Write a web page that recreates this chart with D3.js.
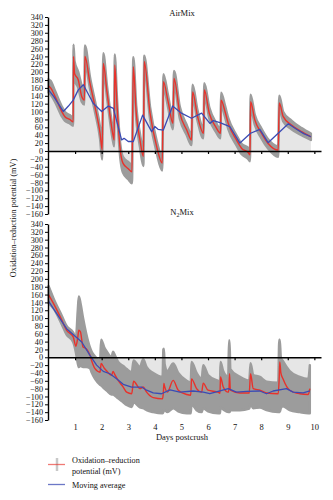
<!DOCTYPE html>
<html>
<head>
<meta charset="utf-8">
<script src="https://cdn.jsdelivr.net/npm/d3@7"></script>
<style>
  body { margin: 0; background: #fff; }
  svg { display: block; }
  text { font-family: "Liberation Serif", "DejaVu Serif", serif; fill: #111; }
</style>
</head>
<body>
<svg id="chart" width="333" height="500"></svg>
<script>
// ---- AirMix: mean ORP with replicate range ----
const airDays = [0, 0.08, 0.25, 0.5, 0.62, 0.8, 0.93, 0.94, 0.98, 1.12, 1.25, 1.35, 1.37, 1.56, 1.75, 1.94, 2.02, 2.06, 2.2, 2.44, 2.47, 2.49, 2.58, 2.7, 2.8, 3.0, 3.14, 3.19, 3.3, 3.44, 3.57, 3.6, 3.82, 4.07, 4.28, 4.32, 4.5, 4.68, 4.72, 4.94, 5.2, 5.38, 5.42, 5.6, 5.83, 5.86, 6.05, 6.3, 6.47, 6.49, 6.64, 6.76, 7.07, 7.26, 7.51, 7.58, 7.6, 7.76, 8.01, 8.26, 8.64, 8.68, 8.83, 9.14, 9.52, 9.87];
const airOrp  = [165, 160, 138, 100, 87, 80, 74, 240, 197, 180, 138, 129, 240, 172, 112, 45, 3, 222, 150, 36, 28, 218, 112, 2, -31, -45, -53, 214, 96, 28, -14, 227, 96, 11, -31, 176, 125, 70, 184, 96, 53, 28, 150, 90, 45, 155, 95, 60, 45, 129, 100, 70, 28, 7, -4, -10, 125, 79, 45, 19, 2, 122, 87, 66, 49, 36];
const airHigh = [182, 178, 152, 113, 99, 91, 85, 270, 228, 200, 165, 145, 268, 188, 126, 60, 15, 248, 166, 50, 42, 245, 130, 18, -15, -28, -35, 238, 115, 44, 2, 242, 112, 26, -15, 195, 140, 85, 203, 112, 66, 42, 168, 105, 58, 172, 110, 72, 56, 148, 115, 84, 40, 18, 8, 2, 143, 92, 57, 30, 12, 140, 99, 77, 58, 44];
const airLow  = [148, 143, 124, 88, 76, 70, 64, 200, 180, 160, 125, 118, 220, 158, 98, 30, -22, 205, 135, 20, 12, 200, 95, -18, -55, -72, -82, 195, 80, 10, -38, 210, 80, -5, -50, 160, 110, 55, 168, 82, 40, 15, 135, 78, 32, 140, 82, 48, 32, 115, 86, 56, 14, -8, -20, -26, 110, 66, 32, 6, -15, 108, 75, 55, 40, 28];
const airAvgDays = [0, 0.2, 0.56, 0.75, 0.93, 1.12, 1.31, 1.68, 2.0, 2.25, 2.44, 2.75, 2.84, 3.0, 3.19, 3.54, 3.88, 4.0, 4.12, 4.32, 4.67, 5.0, 5.38, 5.76, 6.07, 6.2, 6.45, 6.82, 7.2, 7.6, 7.95, 8.26, 9.02, 9.33, 9.6, 9.87];
const airAvg     = [155, 138, 100, 114, 129, 155, 168, 121, 100, 114, 108, 28, 32, 24, 24, 91, 49, 62, 55, 53, 114, 96, 83, 96, 70, 77, 72, 62, 20, 45, 55, 21, 69, 55, 44, 36];

// ---- N2Mix: mean ORP with replicate range ----
const n2Days = [0, 0.19, 0.5, 0.68, 0.93, 1.03, 1.1, 1.14, 1.2, 1.3, 1.42, 1.56, 1.62, 1.75, 1.94, 1.98, 2.1, 2.19, 2.37, 2.43, 2.5, 2.62, 2.81, 2.94, 3.13, 3.2, 3.44, 3.56, 3.69, 3.94, 4.29, 4.32, 4.34, 4.37, 4.47, 4.69, 4.88, 5.2, 5.35, 5.38, 5.57, 5.76, 5.82, 6.0, 6.38, 6.45, 6.47, 6.57, 6.76, 6.79, 6.81, 6.84, 7.2, 7.55, 7.6, 7.7, 7.95, 8.2, 8.64, 8.68, 8.7, 8.74, 8.82, 9.07, 9.45, 9.77, 9.83];
const n2Orp  = [160, 137, 95, 69, 52, 28, 50, 69, 65, 26, 22, 5, -8, -29, -38, -16, -28, -35, -46, -36, -45, -59, -76, -89, -93, -61, -80, -76, -89, -103, -106, -90, -67, -75, -89, -59, -84, -95, -97, -55, -80, -89, -66, -84, -89, -92, -50, -75, -89, -80, -42, -84, -91, -91, -42, -80, -84, -91, -93, -50, -12, -40, -55, -84, -93, -95, -80];
const n2High = [182, 150, 106, 80, 63, 48, 120, 155, 140, 100, 60, 25, 15, 2, -8, 45, 25, 15, 0, 14, 5, -12, -22, -30, -38, -8, -25, -5, -25, -40, -50, 20, 22, -18, -35, -16, -40, -60, -65, -12, -40, -55, -20, -45, -60, -62, -12, -35, -50, 43, 43, -30, -50, -60, -15, -45, -50, -62, -65, 45, 45, 0, -10, -35, -50, -55, -20];
const n2Low  = [138, 124, 84, 58, 38, 12, -15, -25, -22, -25, -25, -28, -38, -55, -70, -72, -80, -85, -95, -95, -98, -105, -115, -122, -127, -115, -128, -130, -135, -140, -143, -140, -135, -135, -140, -130, -138, -143, -143, -120, -135, -140, -130, -138, -143, -143, -128, -133, -140, -140, -140, -135, -135, -131, -120, -130, -128, -135, -140, -140, -140, -130, -125, -135, -140, -143, -143];
const n2AvgDays = [0, 0.68, 1.25, 1.56, 1.81, 2.06, 2.31, 2.56, 2.81, 3.13, 3.5, 3.69, 3.94, 4.25, 4.57, 4.94, 5.44, 5.82, 6.07, 6.45, 6.76, 7.07, 7.45, 7.95, 8.2, 8.45, 8.95, 9.2, 9.58, 9.83];
const n2Avg     = [143, 73, 39, 5, -20, -36, -42, -55, -69, -76, -76, -84, -91, -93, -83, -89, -86, -89, -93, -86, -80, -89, -87, -86, -93, -86, -80, -89, -91, -86];

// ---- Axes ----
const dayTicks = [1, 2, 3, 4, 5, 6, 7, 8, 9, 10];
const orpTicks = d3.range(-160, 341, 20);

const colors = { orp: "#e8322b", avg: "#3b4bb4", band: "#9c9c9c", fill: "#e6e6e6" };

const svg = d3.select("#chart");
const x = d3.scaleLinear().domain([0, 10.25]).range([48.5, 321]);
const curve = d3.curveMonotoneX;

const panels = [
  { title: "AirMix", top: 17, bottom: 214, days: airDays, orp: airOrp, hi: airHigh, lo: airLow, avgDays: airAvgDays, avg: airAvg, titleY: 16 },
  { title: "N2Mix", top: 224, bottom: 420, days: n2Days, orp: n2Orp, hi: n2High, lo: n2Low, avgDays: n2AvgDays, avg: n2Avg, titleY: 215 }
];

panels.forEach((p, pi) => {
  const y = d3.scaleLinear().domain([-160, 340]).range([p.bottom, p.top]);
  const g = svg.append("g");
  const idx = d3.range(p.days.length);

  // light fill between zero and the top of the range
  g.append("path")
    .attr("fill", colors.fill)
    .attr("d", d3.area().curve(curve).x(i => x(p.days[i])).y0(y(0)).y1(i => y(p.hi[i]))(idx));

  // replicate range (stroked so the error-bar spread reads on steep slopes too)
  g.append("path")
    .attr("fill", colors.band)
    .attr("stroke", colors.band)
    .attr("stroke-width", 2.4)
    .attr("stroke-linejoin", "round")
    .attr("d", d3.area().curve(curve).x(i => x(p.days[i])).y0(i => y(p.lo[i])).y1(i => y(p.hi[i]))(idx));

  // mean ORP
  g.append("path")
    .attr("fill", "none")
    .attr("stroke", colors.orp)
    .attr("stroke-width", 1.4)
    .attr("stroke-linejoin", "round")
    .attr("d", d3.line().curve(curve).x(i => x(p.days[i])).y(i => y(p.orp[i]))(idx));

  // moving average
  const aidx = d3.range(p.avgDays.length);
  g.append("path")
    .attr("fill", "none")
    .attr("stroke", colors.avg)
    .attr("stroke-width", 1.3)
    .attr("stroke-linejoin", "round")
    .attr("d", d3.line().x(i => x(p.avgDays[i])).y(i => y(p.avg[i]))(aidx));

  // zero line with day ticks
  const xa = g.append("g")
    .attr("transform", `translate(0,${y(0)})`)
    .call(d3.axisBottom(x).tickValues(dayTicks).tickSize(3).tickSizeOuter(0).tickFormat(""));
  xa.select(".domain").attr("stroke", "#000").attr("stroke-width", 1.4);
  xa.selectAll(".tick line").attr("stroke", "#000").attr("stroke-width", 1.2);

  // ORP axis
  const ya = g.append("g")
    .attr("transform", `translate(${x(0) - 0.5},0)`)
    .call(d3.axisLeft(y).tickValues(orpTicks).tickSize(3).tickSizeOuter(0).tickPadding(2));
  ya.select(".domain").attr("stroke", "#000").attr("stroke-width", 1.4);
  ya.selectAll(".tick line").attr("stroke", "#000").attr("stroke-width", 1);
  ya.selectAll(".tick text")
    .attr("font-family", "Liberation Serif, serif")
    .attr("font-size", 8.2)
    .attr("fill", "#111");

  // panel title
  const t = svg.append("text")
    .attr("x", 182).attr("y", p.titleY)
    .attr("text-anchor", "middle")
    .attr("font-size", 8.5);
  if (pi === 0) {
    t.text(p.title);
  } else {
    t.append("tspan").text("N");
    t.append("tspan").attr("font-size", 6).attr("dy", 2).text("2");
    t.append("tspan").attr("dy", -2).text("Mix");
  }

  // day labels under the lower panel
  if (pi === 1) {
    const la = svg.append("g")
      .attr("transform", "translate(0,424)")
      .call(d3.axisBottom(x).tickValues(dayTicks).tickSize(0).tickPadding(0).tickFormat(d3.format("d")));
    la.select(".domain").remove();
    la.selectAll(".tick text")
      .attr("font-family", "Liberation Serif, serif")
      .attr("font-size", 8.5)
      .attr("fill", "#111");
  }
});

// axis titles
svg.append("text")
  .attr("x", 182).attr("y", 440)
  .attr("text-anchor", "middle")
  .attr("font-size", 8.5)
  .text("Days postcrush");

svg.append("text")
  .attr("transform", "translate(16,218) rotate(-90)")
  .attr("text-anchor", "middle")
  .attr("font-size", 8.2)
  .text("Oxidation–reduction potential (mV)");

// legend
const lg = svg.append("g");
lg.append("line").attr("x1", 57).attr("x2", 57).attr("y1", 458).attr("y2", 471)
  .attr("stroke", "#c8c8c8").attr("stroke-width", 2.5);
lg.append("line").attr("x1", 48).attr("x2", 65).attr("y1", 464.5).attr("y2", 464.5)
  .attr("stroke", colors.orp).attr("stroke-opacity", 0.65).attr("stroke-width", 1.3);
lg.append("text").attr("x", 72).attr("y", 463).attr("font-size", 8.2).text("Oxidation–reduction");
lg.append("text").attr("x", 72).attr("y", 474).attr("font-size", 8.2).text("potential (mV)");
lg.append("line").attr("x1", 48).attr("x2", 65).attr("y1", 484.5).attr("y2", 484.5)
  .attr("stroke", colors.avg).attr("stroke-opacity", 0.75).attr("stroke-width", 1.3);
lg.append("text").attr("x", 72).attr("y", 488).attr("font-size", 8.2).text("Moving average");
</script>
</body>
</html>
